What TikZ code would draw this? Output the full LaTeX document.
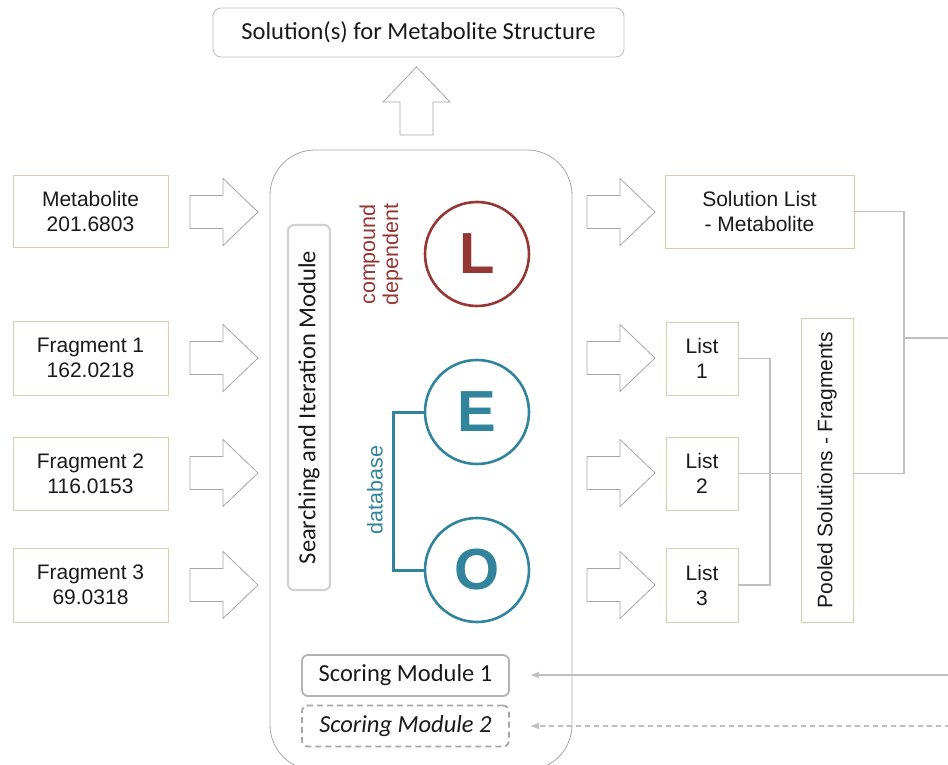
\documentclass[tikz,border=0pt]{standalone}
\usepackage{fontspec}
\setmainfont{Liberation Sans}
\newfontfamily\calfont{Carlito}
\usetikzlibrary{arrows.meta}
\definecolor{boxtan}{HTML}{D6CFB2}
\definecolor{arrgray}{HTML}{A6A6A6}
\definecolor{conngray}{HTML}{BFBFBF}
\definecolor{leored}{HTML}{953735}
\definecolor{leoteal}{HTML}{31849B}
\definecolor{txt}{HTML}{1A1A1A}
\tikzset{
  every node/.style={text=txt, font=\fontsize{21}{25}\selectfont},
  calibri/.style={font=\calfont\fontsize{24.5}{28}\selectfont},
  inbox/.style={draw=boxtan, line width=0.9pt, align=center, inner sep=0pt},
  conn/.style={draw=conngray, line width=1.5pt},
  letter/.style={circle, line width=2.6pt, minimum size=104pt, inner sep=0pt,
    font=\fontsize{58}{58}\selectfont\bfseries},
  scorebox/.style={rounded corners=6pt, line width=1.8pt, minimum width=207pt,
    minimum height=41pt, inner sep=0pt, calibri},
  pics/blockarrow/.style={code={
    \draw[draw=arrgray, line width=0.8pt, fill=white]
      (0,-16.5) -- (33,-16.5) -- (33,-33.5) -- (68,0) -- (33,33.5)
      -- (33,16.5) -- (0,16.5) -- cycle;}}
}
\begin{document}
\begin{tikzpicture}[x=1pt,y=-1pt]
\useasboundingbox (0,0) rectangle (948,765);
\clip (0,0) rectangle (948,765);

% result box and the arrow feeding it
\node[draw=conngray, line width=0.9pt, rounded corners=8pt, minimum width=411pt,
  minimum height=49pt, inner sep=0pt, calibri]
  (result) at (418.5,32.5) {Solution(s) for Metabolite Structure};
\pic[rotate=90] at (416.5,135) {blockarrow};

% central module
\node[draw=arrgray, line width=0.8pt, rounded corners=45pt, minimum width=302pt,
  minimum height=620pt, inner sep=0pt] (core) at (421,460) {};

% search module
\node[draw=black!18, line width=2.2pt, rounded corners=6pt, minimum width=42pt,
  minimum height=365pt, inner sep=0pt] (search) at (309,407.5) {};
\node[rotate=90, calibri] at (search.center) {Searching and Iteration Module};

% L, E, O
\node[letter, draw=leored, text=leored] (L) at (477,254) {L};
\node[letter, draw=leoteal, text=leoteal] (E) at (477,412) {E};
\node[letter, draw=leoteal, text=leoteal] (O) at (477,570) {O};
\coordinate (brk) at (393,0);
\draw[draw=leoteal, line width=3pt] (E.west) -- (E.west -| brk) |- (O.west);
\node[rotate=90, text=leored, align=center, font=\fontsize{21.5}{23}\selectfont]
  at (381,254.5) {compound\\dependent};
\node[rotate=90, text=leoteal, font=\fontsize{21.5}{25}\selectfont] at (375,490) {database};

% inputs
\node[inbox, minimum width=155pt, minimum height=72pt] (met) at (90.5,211) {Metabolite\\201.6803};
\node[inbox, minimum width=155pt, minimum height=74pt] (f1) at (90.5,358) {Fragment 1\\162.0218};
\node[inbox, minimum width=155pt, minimum height=73pt] (f2) at (90.5,473.5) {Fragment 2\\116.0153};
\node[inbox, minimum width=155pt, minimum height=74pt] (f3) at (90.5,585) {Fragment 3\\69.0318};
\foreach \yy in {212,358,473,585} {\pic at (190,\yy) {blockarrow};}

% outputs
\foreach \yy in {212,358,473,585} {\pic at (587,\yy) {blockarrow};}
\node[inbox, minimum width=189pt, minimum height=73pt] (sol) at (759.5,211.5) {Solution List\\- Metabolite};
\node[inbox, minimum width=72pt, minimum height=73pt] (l1) at (702,358.5) {List\\1};
\node[inbox, minimum width=72pt, minimum height=73pt] (l2) at (702,473.5) {List\\2};
\node[inbox, minimum width=72pt, minimum height=74pt] (l3) at (702,585) {List\\3};
\node[inbox, minimum width=52pt, minimum height=304pt] (pool) at (827,470) {};
\node[rotate=90] at (pool.center) {Pooled Solutions - Fragments};

% connectors between the lists
\coordinate (busA) at (770,0);
\coordinate (busB) at (904,0);
\coordinate (outR) at (950,338);
\draw[conn] (l1.east) -- (l1.east -| busA) |- (l3.east);
\draw[conn] (l2.east) -- (l2.east -| pool.west);
\draw[conn] (pool.east |- l2.east) -- (busB |- l2.east) |- (sol.east);
\draw[conn] (busB |- outR) -- (outR);

% scoring modules
\node[scorebox, draw=black!30] (sm1) at (405.5,675.5) {Scoring Module 1};
\node[scorebox, draw=black!35, dashed, dash pattern=on 6pt off 4pt,
  font=\calfont\itshape\fontsize{24.5}{28}\selectfont] (sm2) at (405.5,726) {Scoring Module 2};
\coordinate (s1src) at (950,675);
\coordinate (s2src) at (950,726);
\draw[conn, -{Latex[length=9pt,width=7pt]}, shorten >=20pt] (s1src) -- (sm1.east |- s1src);
\draw[conn, dash pattern=on 5pt off 4pt, -{Latex[length=9pt,width=7pt]}, shorten >=20pt]
  (s2src) -- (sm2.east |- s2src);
\end{tikzpicture}
\end{document}
